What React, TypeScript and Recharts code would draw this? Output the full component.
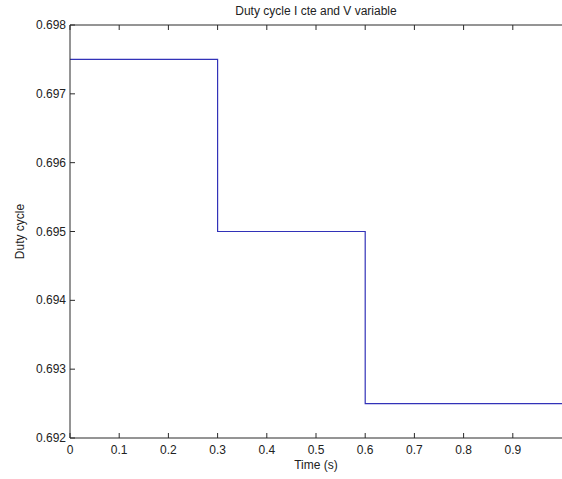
import React from "react";
import { LineChart, Line, XAxis, YAxis, Label } from "recharts";

const times = [0, 0.3, 0.6, 1.0];
const dutyCycle = [0.6975, 0.695, 0.6925, 0.6925];
const xTicks = [0, 0.1, 0.2, 0.3, 0.4, 0.5, 0.6, 0.7, 0.8, 0.9];
const yTicks = [0.692, 0.693, 0.694, 0.695, 0.696, 0.697, 0.698];
const title = "Duty cycle I cte and V variable";
const xLabel = "Time (s)";
const yLabel = "Duty cycle";

const data = times.map((t, i) => ({ t, v: dutyCycle[i] }));

const FONT = "'Liberation Sans', Arial, sans-serif";
const AX = "#2a2a2a";
const TXT = "#222";

const BottomTick = (props: any) => {
  const { x, y, payload } = props;
  return (
    <g>
      <line x1={x} y1={y} x2={x} y2={y - 5} stroke={AX} strokeWidth={1} />
      <text x={x} y={y + 16} textAnchor="middle" fontSize={12} fontFamily={FONT} fill={TXT}>
        {String(payload.value)}
      </text>
    </g>
  );
};

const TopTick = (props: any) => {
  const { x, y } = props;
  return <line x1={x} y1={y} x2={x} y2={y + 5} stroke={AX} strokeWidth={1} />;
};

const LeftTick = (props: any) => {
  const { x, y, payload } = props;
  return (
    <g>
      <line x1={x} y1={y} x2={x + 5} y2={y} stroke={AX} strokeWidth={1} />
      <text x={x - 4} y={y + 4} textAnchor="end" fontSize={12} fontFamily={FONT} fill={TXT}>
        {Number(payload.value).toFixed(3)}
      </text>
    </g>
  );
};

const RightTick = (props: any) => {
  const { x, y } = props;
  return <line x1={x} y1={y} x2={x - 3} y2={y} stroke={AX} strokeWidth={1} />;
};

export default function App() {
  return (
    <div style={{ position: "absolute", left: 0, top: 0, width: 562, height: 479, overflow: "hidden", background: "#fff" }}>
      <LineChart width={563} height={479} data={data} margin={{ top: 24, right: 0, bottom: 40, left: 69 }}>
        <XAxis
          xAxisId="b"
          dataKey="t"
          type="number"
          domain={[0, 1]}
          ticks={xTicks}
          height={1}
          tickSize={0}
          tickMargin={0}
          tick={<BottomTick />}
          axisLine={{ stroke: AX }}
          tickLine={false}
          interval={0}
        >
          <Label
            content={(p: any) => {
              const vb = p.viewBox || { x: 70, y: 438, width: 492 };
              return (
                <text x={vb.x + vb.width / 2} y={vb.y + 31} textAnchor="middle" fontSize={12} fontFamily={FONT} fill={TXT}>
                  {xLabel}
                </text>
              );
            }}
          />
        </XAxis>
        <XAxis
          xAxisId="t"
          orientation="top"
          dataKey="t"
          type="number"
          domain={[0, 1]}
          ticks={xTicks}
          height={1}
          tickSize={0}
          tickMargin={0}
          tick={<TopTick />}
          axisLine={{ stroke: AX }}
          tickLine={false}
          interval={0}
        >
          <Label
            content={(p: any) => {
              const vb = p.viewBox || { x: 70, width: 492 };
              return (
                <text x={vb.x + vb.width / 2} y={15} textAnchor="middle" fontSize={12} fontFamily={FONT} fill={TXT}>
                  {title}
                </text>
              );
            }}
          />
        </XAxis>
        <YAxis
          yAxisId="l"
          type="number"
          domain={[0.692, 0.698]}
          ticks={yTicks}
          width={1}
          tickSize={0}
          tickMargin={0}
          tick={<LeftTick />}
          axisLine={{ stroke: AX }}
          tickLine={false}
          interval={0}
        >
          <Label
            content={(p: any) => {
              const vb = p.viewBox || { y: 25, height: 413 };
              const cy = vb.y + vb.height / 2;
              return (
                <text x={24} y={cy} transform={`rotate(-90 24 ${cy})`} textAnchor="middle" fontSize={12} fontFamily={FONT} fill={TXT}>
                  {yLabel}
                </text>
              );
            }}
          />
        </YAxis>
        <YAxis
          yAxisId="r"
          orientation="right"
          type="number"
          domain={[0.692, 0.698]}
          ticks={yTicks}
          width={1}
          tickSize={0}
          tickMargin={0}
          tick={<RightTick />}
          axisLine={false}
          tickLine={false}
          interval={0}
        />
        <Line
          xAxisId="b"
          yAxisId="l"
          type="stepAfter"
          dataKey="v"
          stroke="#3232b8"
          strokeWidth={1.2}
          dot={false}
          isAnimationActive={false}
        />
      </LineChart>
    </div>
  );
}
